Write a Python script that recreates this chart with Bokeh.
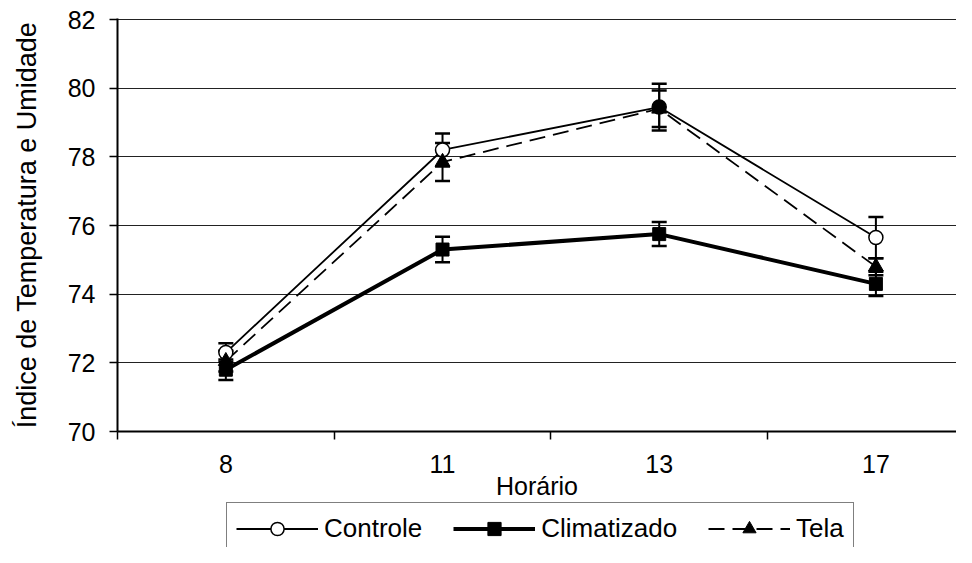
from bokeh.plotting import figure
from bokeh.layouts import column
from bokeh.models import (ColumnDataSource, Range1d, FixedTicker, Whisker, TeeHead,
                          Legend, LegendItem)
from bokeh.embed import file_html
from bokeh.resources import INLINE

# ---- data ----
hours = ["8", "11", "13", "17"]
controle = [72.3, 78.2, 79.45, 75.65]
controle_err = [0.27, 0.48, 0.68, 0.60]
climatizado = [71.8, 75.3, 75.75, 74.3]
climatizado_err = [0.30, 0.37, 0.35, 0.35]
tela = [72.05, 77.85, 79.4, 74.8]
tela_err = [0.30, 0.55, 0.53, 0.25]
y_ticks = [70, 72, 74, 76, 78, 80, 82]
series_names = ["Controle", "Climatizado", "Tela"]

# ---- style ----
FONT = "Liberation Sans"
TICK_FS = "25px"
YTITLE_FS = "27px"
LEG_FS = "26px"
controle_fill = ["white", "white", "black", "white"]
DASH = "16 8"

xpos = [i + 0.5 for i in range(len(hours))]
bounds = list(range(len(hours)))


def src(vals, errs, **extra):
    d = dict(x=xpos, y=vals,
             upper=[v + e for v, e in zip(vals, errs)],
             lower=[v - e for v, e in zip(vals, errs)])
    d.update(extra)
    return ColumnDataSource(d)


s_con = src(controle, controle_err, fill=controle_fill)
s_cli = src(climatizado, climatizado_err)
s_tel = src(tela, tela_err)

W = 956
p = figure(width=W, height=502, output_backend="svg", toolbar_location=None,
           x_range=Range1d(0, 3.872), y_range=Range1d(70, 82.03),
           min_border_left=117, min_border_right=0, min_border_top=18,
           min_border_bottom=70)
p.outline_line_color = None
p.background_fill_color = "white"
p.border_fill_color = "white"

# axes
p.xaxis.ticker = FixedTicker(ticks=xpos, minor_ticks=bounds)
p.xaxis.major_label_overrides = {x: h for x, h in zip(xpos, hours)}
p.xaxis.major_tick_line_color = None
p.xaxis.major_tick_out = 8
p.xaxis.major_tick_in = 0
p.xaxis.minor_tick_out = 8
p.xaxis.minor_tick_in = 0
p.xaxis.minor_tick_line_color = "black"
p.xaxis.minor_tick_line_width = 1.5
p.xaxis.major_label_standoff = 15
p.xaxis.axis_label = "Horário"
p.xaxis.axis_label_standoff = -4

p.yaxis.ticker = FixedTicker(ticks=y_ticks)
p.yaxis.minor_tick_line_color = None
p.yaxis.major_tick_out = 8
p.yaxis.major_tick_in = 0
p.yaxis.major_tick_line_width = 1.5
p.yaxis.major_label_standoff = 14
p.yaxis.axis_label = "Índice de Temperatura e Umidade"
p.yaxis.axis_label_standoff = 23

for ax in (p.xaxis, p.yaxis):
    ax.axis_line_color = "black"
    ax.axis_line_width = 2
    ax.major_label_text_font = FONT
    ax.major_label_text_font_size = TICK_FS
    ax.major_label_text_color = "black"
    ax.axis_label_text_font = FONT
    ax.axis_label_text_font_size = TICK_FS
    ax.axis_label_text_font_style = "normal"
    ax.axis_label_text_color = "black"
p.yaxis.axis_label_text_font_size = YTITLE_FS

p.xgrid.grid_line_color = None
p.ygrid.grid_line_color = "#222222"
p.ygrid.grid_line_width = 1


def draw_series(fig, with_whiskers):
    r = {}
    r["l_con"] = fig.line("x", "y", source=s_con, line_color="black", line_width=1.8)
    r["l_cli"] = fig.line("x", "y", source=s_cli, line_color="black", line_width=4)
    r["l_tel"] = fig.line("x", "y", source=s_tel, line_color="black",
                          line_width=1.8, line_dash=DASH)
    if with_whiskers:
        for s in (s_con, s_tel, s_cli):
            fig.add_layout(Whisker(
                source=s, base="x", upper="upper", lower="lower",
                line_color="black", line_width=2,
                upper_head=TeeHead(size=15, line_width=2.5, line_color="black"),
                lower_head=TeeHead(size=15, line_width=2.5, line_color="black")))
    r["m_con"] = fig.scatter("x", "y", source=s_con, marker="circle", size=14,
                             fill_color="fill", line_color="black", line_width=1.5)
    r["m_tel"] = fig.scatter("x", "y", source=s_tel, marker="triangle", size=15,
                             fill_color="black", line_color="black")
    r["m_cli"] = fig.scatter("x", "y", source=s_cli, marker="square", size=13,
                             fill_color="black", line_color="black")
    return r


draw_series(p, True)

# ---- legend strip (same series, drawn out of view; only the legend shows) ----
H2 = 45
p2 = figure(width=W, height=H2, output_backend="svg", toolbar_location=None,
            x_range=Range1d(0, 1), y_range=Range1d(0, 1),
            min_border_left=0, min_border_right=0, min_border_top=0,
            min_border_bottom=0)
p2.axis.visible = False
p2.grid.grid_line_color = None
p2.outline_line_color = None
r2 = draw_series(p2, False)

legend = Legend(items=[
    LegendItem(label=series_names[0], renderers=[r2["l_con"], r2["m_con"]], index=0),
    LegendItem(label=series_names[1], renderers=[r2["l_cli"], r2["m_cli"]], index=0),
    LegendItem(label=series_names[2], renderers=[r2["l_tel"], r2["m_tel"]], index=0),
], orientation="horizontal", location=(109, -8))
legend.label_text_font = FONT
legend.label_text_font_size = LEG_FS
legend.label_text_color = "black"
legend.glyph_width = 82
legend.glyph_height = 33
legend.label_standoff = 6
legend.spacing = 31
legend.padding = 9
legend.margin = 0
legend.border_line_color = "black"
legend.border_line_width = 1
legend.background_fill_alpha = 1
p2.add_layout(legend, "center")

layout = column(p, p2, spacing=0)
open("out.html", "w").write(file_html(layout, INLINE))
